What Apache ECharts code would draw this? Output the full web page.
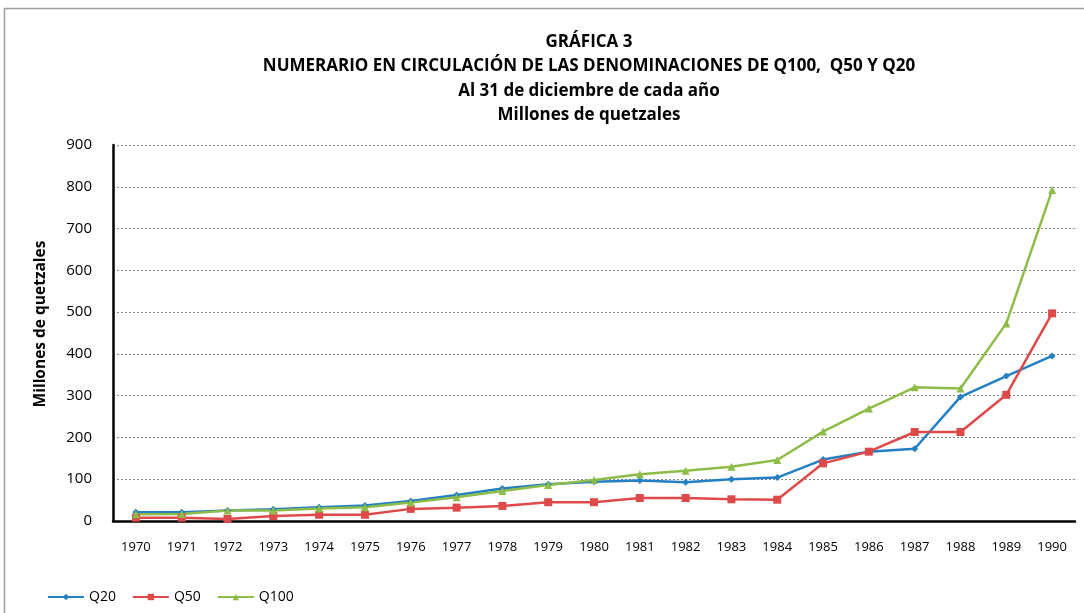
<!DOCTYPE html>
<html><head><meta charset="utf-8">
<script src="https://cdn.jsdelivr.net/npm/echarts@6/dist/echarts.min.js"></script>
<style>html,body{margin:0;padding:0;background:#fff}#c{width:1084px;height:613px}</style>
</head><body><div id="c"></div>
<script>
const years = ['1970','1971','1972','1973','1974','1975','1976','1977','1978','1979','1980','1981','1982','1983','1984','1985','1986','1987','1988','1989','1990'];
const q20  = [21,21,25,28,33,37,48,62,78,88,94,97,93,100,104,147,166,173,297,347,395];
const q50  = [8,8,5,12,15,15,29,32,36,45,45,55,55,52,51,138,166,213,213,302,497];
const q100 = [16,17,25,25,30,33,44,57,72,86,98,112,120,130,146,214,269,320,317,473,792];
const yTicks = [0,100,200,300,400,500,600,700,800,900];

const font = '"Open Sans", "Noto Sans", sans-serif';
const chart = echarts.init(document.getElementById('c'));
const mk = (name, data, color, symbol, size) => ({
  name, type: 'line', data, symbol, symbolSize: size,
  lineStyle: {color, width: 2.5}, itemStyle: {color},
  emphasis: {disabled: true}
});
chart.setOption({
  animation: false,
  graphic: [{type: 'rect', shape: {x: 4.5, y: 8.5, width: 1200, height: 1000},
    style: {fill: 'none', stroke: '#a0a0a0', lineWidth: 1.5}}],
  title: {
    text: 'GRÁFICA 3\nNUMERARIO EN CIRCULACIÓN DE LAS DENOMINACIONES DE Q100,  Q50 Y Q20\nAl 31 de diciembre de cada año\nMillones de quetzales',
    left: 584, top: 25, textAlign: 'center',
    textStyle: {fontFamily: font, fontSize: 17, fontWeight: 'bold', color: '#000', lineHeight: 24.3}
  },
  legend: {
    left: 42, top: 585, itemWidth: 36, itemHeight: 8, itemGap: 16,
    textStyle: {fontFamily: font, fontSize: 14, color: '#000'},
    data: ['Q20','Q50','Q100']
  },
  grid: {left: 113, right: 9, top: 145, bottom: 92},
  xAxis: {
    type: 'category', data: years, boundaryGap: true,
    axisLine: {lineStyle: {color: '#000', width: 2.5}},
    axisTick: {show: false},
    axisLabel: {fontFamily: font, fontSize: 13, color: '#000', margin: 20}
  },
  yAxis: {
    type: 'value', min: yTicks[0], max: yTicks[yTicks.length-1], interval: 100,
    name: 'Millones de quetzales', nameLocation: 'middle', nameGap: 64, nameRotate: 90,
    nameTextStyle: {fontFamily: font, fontSize: 15.5, fontWeight: 'bold', color: '#000', padding: [0, 0, 0, 18]},
    axisLine: {show: true, lineStyle: {color: '#000', width: 2.5}},
    axisTick: {show: false},
    axisLabel: {fontFamily: font, fontSize: 15, color: '#000', margin: 21},
    splitLine: {lineStyle: {color: '#888', type: [2, 2], width: 1}}
  },
  series: [
    mk('Q20', q20, '#2580c3', 'diamond', 7),
    mk('Q50', q50, '#de4a4a', 'rect', 8),
    mk('Q100', q100, '#8dbd48', 'triangle', 8)
  ]
});
</script></body></html>
